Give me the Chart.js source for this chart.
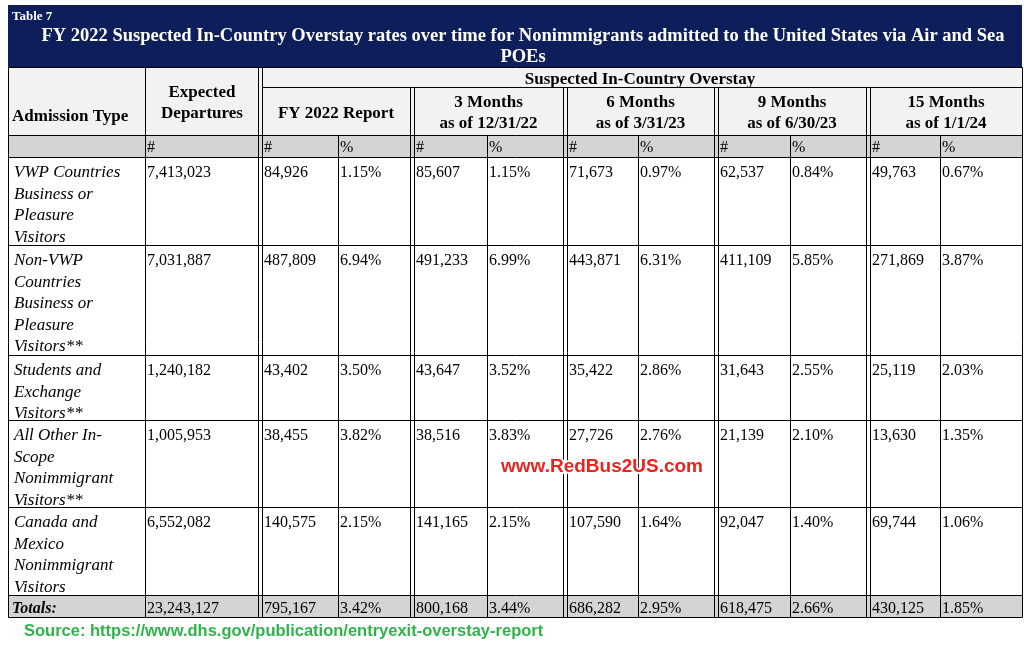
<!DOCTYPE html>
<html><head><meta charset="utf-8">
<script src="https://cdn.jsdelivr.net/npm/chart.js@4/dist/chart.umd.min.js"></script>
<style>html,body{margin:0;padding:0;background:#fff}</style>
</head><body>
<canvas id="tbl" width="1024" height="647"></canvas>
<script>
// table data
const categories = [
  ["VWP Countries","Business or","Pleasure","Visitors"],
  ["Non-VWP","Countries","Business or","Pleasure","Visitors**"],
  ["Students and","Exchange","Visitors**"],
  ["All Other In-","Scope","Nonimmigrant","Visitors**"],
  ["Canada and","Mexico","Nonimmigrant","Visitors"]
];
const expected = ["7,413,023","7,031,887","1,240,182","1,005,953","6,552,082"];
const reportNum = ["84,926","487,809","43,402","38,455","140,575"];
const reportPct = ["1.15%","6.94%","3.50%","3.82%","2.15%"];
const m3Num = ["85,607","491,233","43,647","38,516","141,165"];
const m3Pct = ["1.15%","6.99%","3.52%","3.83%","2.15%"];
const m6Num = ["71,673","443,871","35,422","27,726","107,590"];
const m6Pct = ["0.97%","6.31%","2.86%","2.76%","1.64%"];
const m9Num = ["62,537","411,109","31,643","21,139","92,047"];
const m9Pct = ["0.84%","5.85%","2.55%","2.10%","1.40%"];
const m15Num = ["49,763","271,869","25,119","13,630","69,744"];
const m15Pct = ["0.67%","3.87%","2.03%","1.35%","1.06%"];
const totals = ["23,243,127","795,167","3.42%","800,168","3.44%","686,282","2.95%","618,475","2.66%","430,125","1.85%"];
const periods = [["FY 2022 Report"],["3 Months","as of 12/31/22"],["6 Months","as of 3/31/23"],["9 Months","as of 6/30/23"],["15 Months","as of 1/1/24"]];

const colX = [8,145,258,338,410,487,563,638,714,790,866,940,1022];
const doubles = [2,4,6,8,10];
const rowY = [157,245,355,420,507,595,617];

const tablePlugin = {
  id: 'tablePlugin',
  afterDraw(chart){
    const c = chart.ctx, xs = chart.scales.x, ys = chart.scales.y;
    const X = v => xs.getPixelForValue(v), Y = v => ys.getPixelForValue(v);
    const serif = '"Liberation Serif", "DejaVu Serif", serif';
    c.save();
    // banner
    c.fillStyle = '#0e1e5b';
    c.fillRect(X(8), Y(5), X(1022)-X(8), Y(67)-Y(5));
    c.fillStyle = '#fff';
    c.font = 'bold 13px ' + serif; c.textAlign = 'left';
    c.fillText('Table 7', X(12), Y(20));
    c.font = 'bold 18.5px ' + serif; c.textAlign = 'center';
    c.fillText('FY 2022 Suspected In-Country Overstay rates over time for Nonimmigrants admitted to the United States via Air and Sea', X(523), Y(41));
    c.fillText('POEs', X(523), Y(62));
    // gray rows
    c.fillStyle = '#d4d4d4';
    c.fillRect(X(8), Y(135), X(1022)-X(8), Y(157)-Y(135));
    c.fillRect(X(8), Y(595), X(1022)-X(8), Y(617)-Y(595));
    c.fillStyle = '#f2f2f2';
    c.fillRect(X(8), Y(67), X(1022)-X(8), Y(135)-Y(67));
    // grid
    c.strokeStyle = '#000'; c.lineWidth = 1;
    const line = (x1,y1,x2,y2) => { c.beginPath(); c.moveTo(X(x1)+0.5,Y(y1)+0.5); c.lineTo(X(x2)+0.5,Y(y2)+0.5); c.stroke(); };
    colX.forEach((x,i) => {
      const top = (i===0||i===1||i===2||i===12) ? 67 : (i%2===0 ? 87 : 135);
      line(x, top, x, 617);
      if (doubles.includes(i)) line(x+4, top, x+4, 617);
    });
    line(8,67,1022,67);
    line(262,87,1022,87);
    line(8,135,1022,135);
    rowY.forEach(y => line(8,y,1022,y));
    // header text
    c.fillStyle = '#000'; c.font = 'bold 17px ' + serif;
    c.textAlign = 'left';
    c.fillText('Admission Type', X(12), Y(121));
    c.textAlign = 'center';
    c.fillText('Expected', X(202), Y(97)); c.fillText('Departures', X(202), Y(118));
    c.fillText('Suspected In-Country Overstay', X(640), Y(84));
    periods.forEach((p,k) => {
      const l = colX[2+2*k] + 4, r = colX[4+2*k];
      const cx = (X(l)+X(r))/2;
      if (p.length === 1) c.fillText(p[0], cx, Y(118));
      else { c.fillText(p[0], cx, Y(107)); c.fillText(p[1], cx, Y(128)); }
    });
    c.font = '16px ' + serif; c.textAlign = 'left';
    c.fillText('#', X(147), Y(152));
    for (let k=2;k<12;k++) c.fillText(k%2===0?'#':'%', X(colX[k]+(doubles.includes(k)?6:2)), Y(152));
    // body
    const cols = [expected,reportNum,reportPct,m3Num,m3Pct,m6Num,m6Pct,m9Num,m9Pct,m15Num,m15Pct];
    categories.forEach((lines,r) => {
      const top = rowY[r];
      c.font = 'italic 17px ' + serif;
      lines.forEach((t,j) => c.fillText(t, X(14), Y(top+20+j*21.6)));
      c.font = '16px ' + serif;
      cols.forEach((arr,k) => {
        const ci = k+1;
        c.fillText(arr[r], X(colX[ci]+(doubles.includes(ci)?6:2)), Y(top+20));
      });
    });
    c.font = 'bold italic 16px ' + serif;
    c.fillText('Totals:', X(12), Y(613));
    c.font = '16px ' + serif;
    totals.forEach((t,k) => { const ci=k+1; c.fillText(t, X(colX[ci]+(doubles.includes(ci)?6:2)), Y(613)); });
    // watermark
    c.font = 'bold 19px "Liberation Sans", Arial, sans-serif';
    c.lineWidth = 4; c.strokeStyle = '#fff';
    c.strokeText('www.RedBus2US.com', X(501), Y(472));
    c.fillStyle = '#e8251f';
    c.fillText('www.RedBus2US.com', X(501), Y(472));
    // source
    c.font = 'bold 16.5px "Liberation Sans", Arial, sans-serif';
    c.fillStyle = '#2fb44c';
    c.fillText('Source: https://www.dhs.gov/publication/entryexit-overstay-report', X(24), Y(636));
    c.restore();
  }
};

new Chart(document.getElementById('tbl'), {
  type: 'scatter',
  data: { datasets: [{ data: [] }] },
  options: {
    responsive: false, animation: false,
    layout: { padding: 0 },
    plugins: { legend: { display: false }, tooltip: { enabled: false } },
    scales: {
      x: { type: 'linear', min: 0, max: 1024, display: false },
      y: { type: 'linear', min: 0, max: 647, reverse: true, display: false }
    }
  },
  plugins: [tablePlugin]
});
</script>
</body></html>
